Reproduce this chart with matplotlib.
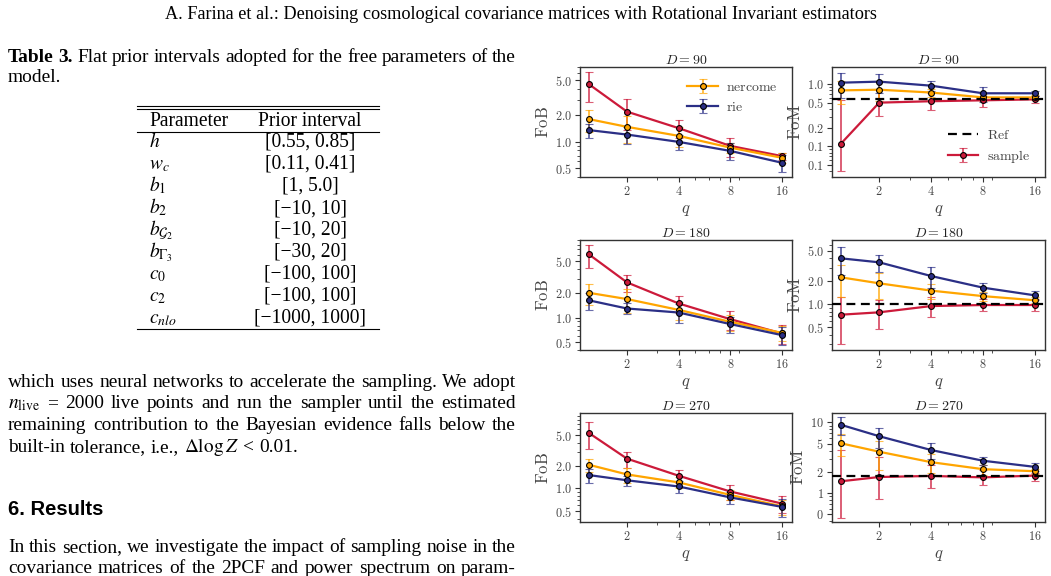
import matplotlib
matplotlib.use("Agg")
import matplotlib.pyplot as plt
from matplotlib.ticker import FixedLocator, FuncFormatter, NullFormatter, LogLocator
from matplotlib.lines import Line2D

plt.rcParams['mathtext.fontset'] = 'cm'

# ---------------- data ----------------
Q = [1.2, 2, 4, 8, 16]
X_TICKS = [2, 4, 8, 16]

FOB90_SAMPLE = [4.5, 2.2, 1.43, 0.90, 0.69]
FOB90_SAMPLE_ERR = [1.65, 0.85, 0.33, 0.22, 0.06]
FOB90_NERCOME = [1.81, 1.48, 1.17, 0.86, 0.66]
FOB90_NERCOME_ERR = [0.5, 0.5, 0.3, 0.12, 0.08]
FOB90_RIE = [1.36, 1.21, 1.0, 0.79, 0.58]
FOB90_RIE_ERR = [0.24, 0.27, 0.2, 0.17, 0.13]

FOB180_SAMPLE = [6.05, 2.73, 1.50, 0.96, 0.64]
FOB180_SAMPLE_ERR = [1.95, 0.65, 0.37, 0.25, 0.17]
FOB180_NERCOME = [2.03, 1.70, 1.25, 0.89, 0.65]
FOB180_NERCOME_ERR = [0.6, 0.55, 0.3, 0.2, 0.13]
FOB180_RIE = [1.64, 1.30, 1.16, 0.835, 0.61]
FOB180_RIE_ERR = [0.4, 0.2, 0.3, 0.18, 0.15]

FOB270_SAMPLE = [5.39, 2.47, 1.47, 0.91, 0.63]
FOB270_SAMPLE_ERR = [2.1, 0.6, 0.3, 0.2, 0.16]
FOB270_NERCOME = [2.05, 1.53, 1.2, 0.82, 0.58]
FOB270_NERCOME_ERR = [0.42, 0.35, 0.2, 0.12, 0.13]
FOB270_RIE = [1.50, 1.28, 1.06, 0.76, 0.57]
FOB270_RIE_ERR = [0.33, 0.2, 0.18, 0.13, 0.15]

FOM90_SAMPLE = [0.111, 0.503, 0.53, 0.548, 0.568]
FOM90_SAMPLE_ERR = [[0.071, 0.19, 0.14, 0.12, 0.07], [0.45, 0.3, 0.18, 0.1, 0.07]]
FOM90_NERCOME = [0.79, 0.81, 0.73, 0.61, 0.61]
FOM90_NERCOME_ERR = [0.32, 0.28, 0.1, 0.08, 0.05]
FOM90_RIE = [1.05, 1.09, 0.94, 0.71, 0.71]
FOM90_RIE_ERR = [0.45, 0.36, 0.18, 0.2, 0.06]
FOM90_REF = 0.58

FOM180_SAMPLE = [0.733, 0.787, 0.95, 0.98, 0.98]
FOM180_SAMPLE_ERR = [[0.43, 0.31, 0.27, 0.16, 0.16], [0.5, 0.35, 0.3, 0.18, 0.18]]
FOM180_NERCOME = [2.25, 1.88, 1.51, 1.28, 1.13]
FOM180_NERCOME_ERR = [1.0, 0.7, 0.33, 0.18, 0.1]
FOM180_RIE = [3.98, 3.53, 2.34, 1.65, 1.31]
FOM180_RIE_ERR = [1.6, 0.9, 0.7, 0.25, 0.18]
FOM180_REF = 1.0

FOM270_SAMPLE = [1.47, 1.69, 1.75, 1.67, 1.77]
FOM270_SAMPLE_ERR = [[1.03, 0.86, 0.57, 0.36, 0.3], [2.6, 1.6, 0.73, 0.44, 0.18]]
FOM270_NERCOME = [5.07, 3.85, 2.74, 2.18, 2.04]
FOM270_NERCOME_ERR = [1.7, 1.7, 0.8, 0.35, 0.15]
FOM270_RIE = [9.26, 6.38, 4.07, 2.87, 2.35]
FOM270_RIE_ERR = [2.6, 2.0, 1.0, 0.4, 0.32]
FOM270_REF = 1.77

FOB_TICKS = [0.5, 1.0, 2.0, 5.0]
FOM90_TICKS = [0.05, 0.1, 0.2, 0.5, 1.0]
FOM180_TICKS = [0.5, 1.0, 2.0, 5.0]
FOM270_TICKS = [0.5, 1, 2, 5, 10]

TABLE_PARAMS = [r'$h$', r'$w_c$', r'$b_1$', r'$b_2$', r'$b_{\mathcal{G}_2}$',
                r'$b_{\Gamma_3}$', r'$c_0$', r'$c_2$', r'$c_{nlo}$']
TABLE_PRIORS = ['[0.55, 0.85]', '[0.11, 0.41]', '[1, 5.0]', '[\u221210, 10]',
                '[\u221210, 20]', '[\u221230, 20]', '[\u2212100, 100]',
                '[\u2212100, 100]', '[\u22121000, 1000]']

# ---------------- figure ----------------
W, H = 1051, 576
fig = plt.figure(figsize=(W / 100, H / 100), dpi=100)
R = fig.canvas.get_renderer()

def fx(x):
    return x / W

def fy(y):
    return 1 - y / H

SERIF = 'Liberation Serif'

def mk(s, size, family=SERIF, **kw):
    return fig.text(0, 0, s, fontsize=size, family=family, va='baseline',
                    ha='left', math_fontfamily='stix', **kw)

def fit_size(s, width, family=SERIF, **kw):
    t = mk(s, 10, family, **kw)
    w = t.get_window_extent(R).width
    t.remove()
    return 10 * width / w

def line(words, x0, x1, yb, size, justify=True, family=SERIF):
    texts = []
    for w in words:
        if isinstance(w, tuple):
            s, kw = w
        else:
            s, kw = w, {}
        texts.append(mk(s, size, family, **kw))
    widths = [t.get_window_extent(R).width for t in texts]
    if justify and len(texts) > 1:
        gap = (x1 - x0 - sum(widths)) / (len(texts) - 1)
    else:
        gap = size * 100 / 72 * 0.25
    x = x0
    for t, w in zip(texts, widths):
        t.set_position((fx(x), fy(yb)))
        x += w + gap

# page header
hdr = 'A. Farina et al.: Denoising cosmological covariance matrices with Rotational Invariant estimators'
hs = fit_size(hdr, 715)
t = mk(hdr, hs)
t.set_position((fx(165), fy(19)))

XL, XR = 8, 516
body = fit_size('which uses neural networks to accelerate the sampling. We adopt', 504)

# caption
cap_words = [('Table', {'weight': 'bold'}), ('3.', {'weight': 'bold'}), 'Flat', 'prior',
             'intervals', 'adopted', 'for', 'the', 'free', 'parameters', 'of', 'the']
line(cap_words, XL, XR, 62, body)
line(['model.'], XL, XR, 82, body, justify=False)

# table
ts = fit_size('Prior interval', 104)
for yy in (106, 108.7):
    fig.add_artist(Line2D([fx(137), fx(379)], [fy(yy), fy(yy)], color='black', lw=0.8))
fig.add_artist(Line2D([fx(137), fx(379)], [fy(131.7), fy(131.7)], color='black', lw=0.8))
fig.add_artist(Line2D([fx(137), fx(379)], [fy(329.3), fy(329.3)], color='black', lw=0.8))
t = mk('Parameter', ts); t.set_position((fx(149), fy(126)))
t = mk('Prior interval', ts); t.set_position((fx(310), fy(126))); t.set_ha('center')
for i, (p, v) in enumerate(zip(TABLE_PARAMS, TABLE_PRIORS)):
    yb = 147 + 22 * i
    t = mk(p, ts); t.set_position((fx(149), fy(yb)))
    t = mk(v, ts); t.set_position((fx(310), fy(yb))); t.set_ha('center')

# body text
line('which uses neural networks to accelerate the sampling. We adopt'.split(), XL, XR, 387, body)
line([r'$n_{\rm live}$', '=', '2000', 'live', 'points', 'and', 'run', 'the', 'sampler',
      'until', 'the', 'estimated'], XL, XR, 408.5, body)
line('remaining contribution to the Bayesian evidence falls below the'.split(), XL, XR, 430.5, body)
line(['built-in', 'tolerance,', 'i.e.,', r'$\Delta\log Z$', '<', '0.01.'], XL, XR, 452.5, body, justify=False)
rs = fit_size('6. Results', 96, family='Liberation Sans', weight='bold')
t = mk('6. Results', rs, family='Liberation Sans', weight='bold')
t.set_position((fx(8), fy(515)))
line('In this section, we investigate the impact of sampling noise in the'.split(), XL, XR, 552, body)
line('covariance matrices of the 2PCF and power spectrum on param-'.split(), XL, XR, 573, body)

# ---------------- plots ----------------
C_SAMPLE = '#cc1a3a'
C_NERCOME = '#ffa500'
C_RIE = '#2b2f86'
TXT = '#444444'

def add_ax(l, r, t_, b):
    return fig.add_axes([fx(l), fy(b), (r - l) / W, (b - t_) / H])

def fmt_factory(dec):
    def f(v, pos):
        return r'$%s$' % format(v, '.%df' % dec)
    return FuncFormatter(f)

def ebar(ax, y, e, c, label):
    return ax.errorbar(Q, y, yerr=e, color=c, lw=1.6, marker='o', ms=4.2,
                       mfc=c, mec='black', mew=0.8, ecolor=matplotlib.colors.to_rgba(c, 0.7),
                       elinewidth=1.4, capsize=2.8, capthick=1.4, label=label)

def style(ax, ylim, yticks, dec, ylabel, title):
    ax.set_xscale('log')
    ax.set_yscale('log')
    ax.set_xlim(1.065, 18.3)
    ax.set_ylim(*ylim)
    ax.xaxis.set_major_locator(FixedLocator(X_TICKS))
    ax.xaxis.set_major_formatter(FuncFormatter(lambda v, p: r'$%d$' % v))
    ax.xaxis.set_minor_formatter(NullFormatter())
    ax.yaxis.set_major_locator(FixedLocator(yticks))
    ax.yaxis.set_major_formatter(fmt_factory(dec))
    ax.yaxis.set_minor_locator(LogLocator(base=10, subs=range(2, 10)))
    ax.yaxis.set_minor_formatter(NullFormatter())
    ax.tick_params(which='major', labelsize=8.8, labelcolor=TXT, color='#333333', length=3.5, width=0.8, pad=2.5)
    ax.tick_params(which='minor', color='#333333', length=2, width=0.6)
    for s in ax.spines.values():
        s.set_color('#333333')
        s.set_linewidth(1.0)
    ax.set_ylabel(r'$\mathrm{%s}$' % ylabel, fontsize=12, color=TXT, labelpad=2)
    ax.set_xlabel(r'$q$', fontsize=12, color=TXT, labelpad=1)
    ax.set_title(r'$D = %d$' % title, fontsize=10, color='#222222', pad=2)

X_L1, X_R1, X_L2, X_R2 = 580, 792, 832, 1045
ROWS = [(67, 177), (240, 350), (413, 522)]

fob_data = [
    (FOB90_SAMPLE, FOB90_SAMPLE_ERR, FOB90_NERCOME, FOB90_NERCOME_ERR, FOB90_RIE, FOB90_RIE_ERR, (0.40, 7.05), 90),
    (FOB180_SAMPLE, FOB180_SAMPLE_ERR, FOB180_NERCOME, FOB180_NERCOME_ERR, FOB180_RIE, FOB180_RIE_ERR, (0.40, 9.1), 180),
    (FOB270_SAMPLE, FOB270_SAMPLE_ERR, FOB270_NERCOME, FOB270_NERCOME_ERR, FOB270_RIE, FOB270_RIE_ERR, (0.36, 9.9), 270),
]
fom_data = [
    (FOM90_SAMPLE, FOM90_SAMPLE_ERR, FOM90_NERCOME, FOM90_NERCOME_ERR, FOM90_RIE, FOM90_RIE_ERR, FOM90_REF, (0.0325, 1.87), FOM90_TICKS, 1, 90),
    (FOM180_SAMPLE, FOM180_SAMPLE_ERR, FOM180_NERCOME, FOM180_NERCOME_ERR, FOM180_RIE, FOM180_RIE_ERR, FOM180_REF, (0.254, 6.9), FOM180_TICKS, 1, 180),
    (FOM270_SAMPLE, FOM270_SAMPLE_ERR, FOM270_NERCOME, FOM270_NERCOME_ERR, FOM270_RIE, FOM270_RIE_ERR, FOM270_REF, (0.39, 13.6), FOM270_TICKS, 0, 270),
]

for i, ((top, bot), fb, fm) in enumerate(zip(ROWS, fob_data, fom_data)):
    ax = add_ax(X_L1, X_R1, top, bot)
    s, se, n, ne, r_, re_, yl, D = fb
    ebar(ax, s, se, C_SAMPLE, r'$\mathrm{sample}$')
    hn = ebar(ax, n, ne, C_NERCOME, r'$\mathrm{nercome}$')
    hr = ebar(ax, r_, re_, C_RIE, r'$\mathrm{rie}$')
    style(ax, yl, FOB_TICKS, 1, 'FoB', D)
    if i == 0:
        ax.legend(handles=[hn, hr], loc='center', bbox_to_anchor=(0.72, 0.73),
                  frameon=False, fontsize=10, handlelength=2.2, handletextpad=0.6,
                  labelspacing=0.45, labelcolor=TXT)

    ax2 = add_ax(X_L2, X_R2, top, bot)
    s, se, n, ne, r_, re_, ref, yl, yt, dec, D = fm
    hs_ = ebar(ax2, s, se, C_SAMPLE, r'$\mathrm{sample}$')
    ebar(ax2, n, ne, C_NERCOME, r'$\mathrm{nercome}$')
    ebar(ax2, r_, re_, C_RIE, r'$\mathrm{rie}$')
    href = ax2.axhline(ref, color='black', ls=(0, (4, 2.5)), lw=1.6, label=r'$\mathrm{Ref}$', zorder=5)
    style(ax2, yl, yt, dec, 'FoM', D)
    if i == 0:
        ax2.legend(handles=[href, hs_], loc='center', bbox_to_anchor=(0.737, 0.28),
                   frameon=False, fontsize=10, handlelength=2.2, handletextpad=0.6,
                   labelspacing=0.45, labelcolor=TXT)

fig.savefig('out.png', dpi=100)
